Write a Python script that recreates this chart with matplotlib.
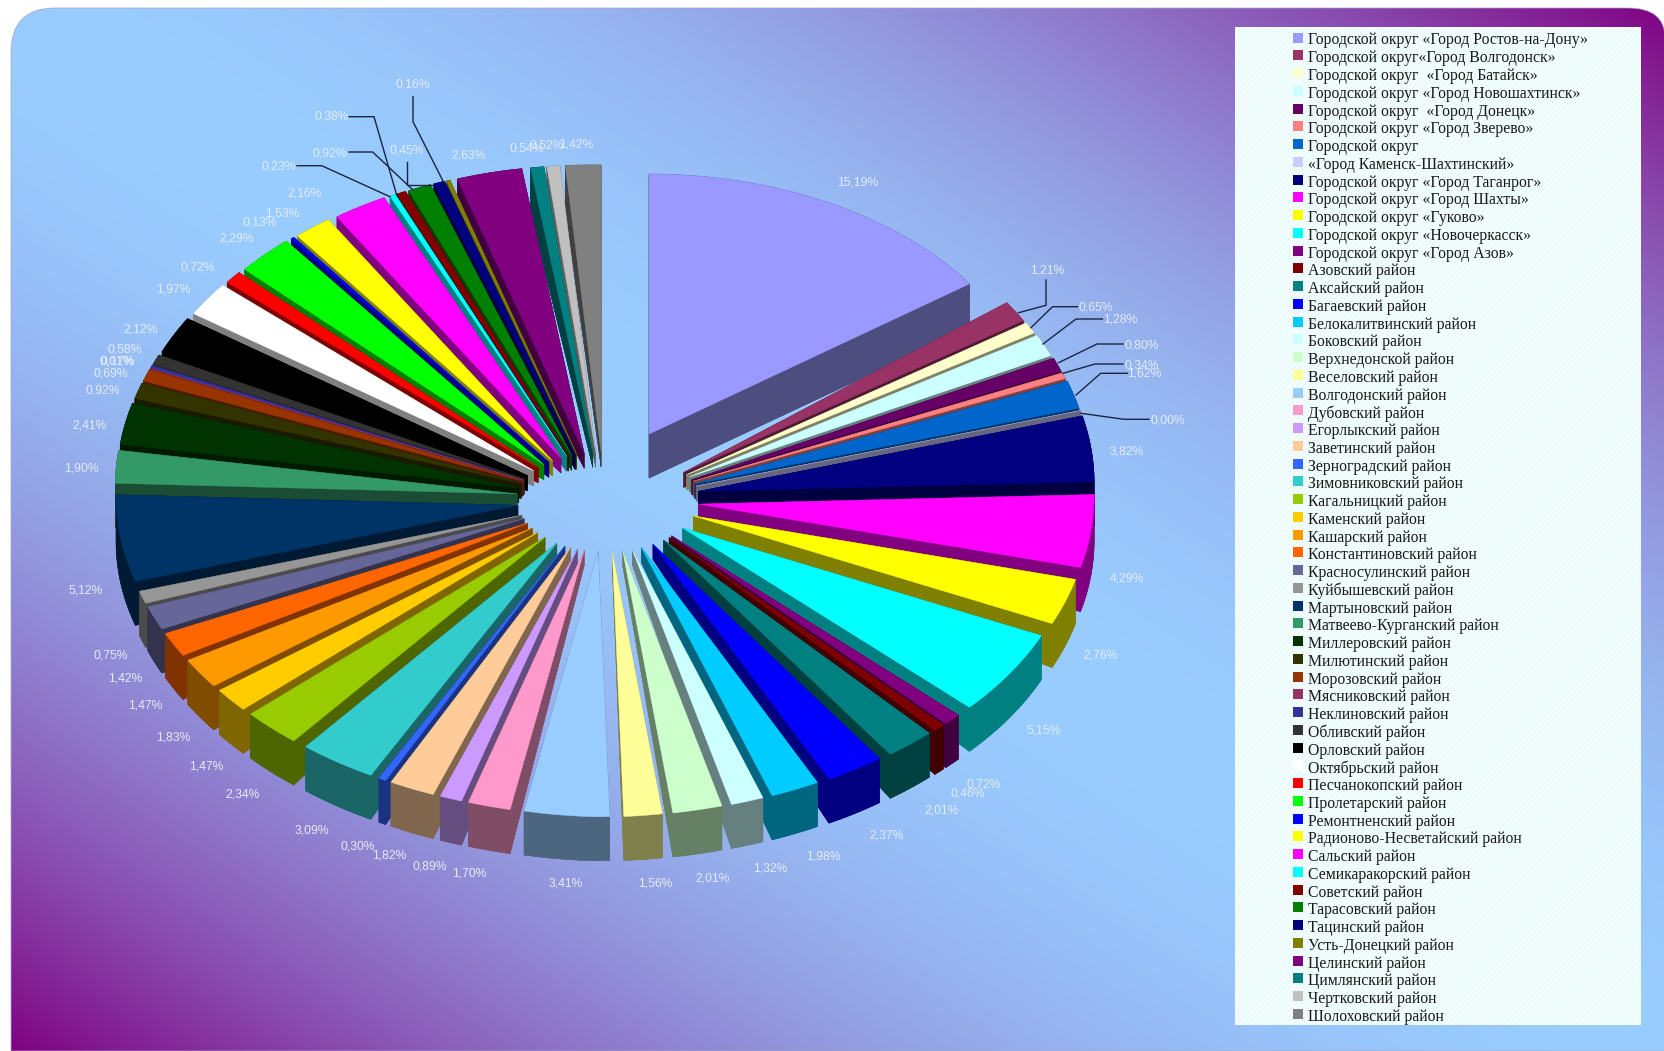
import numpy as np
import matplotlib
matplotlib.use("Agg")
import matplotlib.pyplot as plt
from matplotlib.patches import PathPatch, Polygon, Rectangle
from matplotlib.path import Path
from matplotlib.colors import to_rgb

names = ["Городской округ «Город Ростов-на-Дону»", "Городской округ«Город Волгодонск»", "Городской округ  «Город Батайск»",
 "Городской округ «Город Новошахтинск»", "Городской округ  «Город Донецк»", "Городской округ «Город Зверево»",
 "Городской округ", "«Город Каменск-Шахтинский»", "Городской округ «Город Таганрог»", "Городской округ «Город Шахты»",
 "Городской округ «Гуково»", "Городской округ «Новочеркасск»", "Городской округ «Город Азов»", "Азовский район",
 "Аксайский район", "Багаевский район", "Белокалитвинский район", "Боковский район", "Верхнедонской район",
 "Веселовский район", "Волгодонский район", "Дубовский район", "Егорлыкский район", "Заветинский район",
 "Зерноградский район", "Зимовниковский район", "Кагальницкий район", "Каменский район", "Кашарский район",
 "Константиновский район", "Красносулинский район", "Куйбышевский район", "Мартыновский район",
 "Матвеево-Курганский район", "Миллеровский район", "Милютинский район", "Морозовский район", "Мясниковский район",
 "Неклиновский район", "Обливский район", "Орловский район", "Октябрьский район", "Песчанокопский район",
 "Пролетарский район", "Ремонтненский район", "Радионово-Несветайский район", "Сальский район", "Семикаракорский район",
 "Советский район", "Тарасовский район", "Тацинский район", "Усть-Донецкий район", "Целинский район",
 "Цимлянский район", "Чертковский район", "Шолоховский район"]
values = [15.19, 1.21, 0.65, 1.28, 0.80, 0.34, 1.62, 0.00, 3.82, 4.29, 2.76, 5.15, 0.72, 0.46, 2.01, 2.37, 1.98, 1.32,
 2.01, 1.56, 3.41, 1.70, 0.89, 1.82, 0.30, 3.09, 2.34, 1.47, 1.83, 1.47, 1.42, 0.75, 5.12, 1.90, 2.41, 0.92, 0.69,
 0.01, 0.17, 0.58, 2.12, 1.97, 0.72, 2.29, 0.13, 1.53, 2.16, 0.23, 0.38, 0.92, 0.45, 0.16, 2.63, 0.54, 0.52, 1.42]
colors = ["#9999FF", "#993366", "#FFFFCC", "#CCFFFF", "#660066", "#FF8080", "#0066CC", "#CCCCFF", "#000080", "#FF00FF",
 "#FFFF00", "#00FFFF", "#800080", "#800000", "#008080", "#0000FF", "#00CCFF", "#CCFFFF", "#CCFFCC", "#FFFF99",
 "#99CCFF", "#FF99CC", "#CC99FF", "#FFCC99", "#3366FF", "#33CCCC", "#99CC00", "#FFCC00", "#FF9900", "#FF6600",
 "#666699", "#969696", "#003366", "#339966", "#003300", "#333300", "#993300", "#993366", "#333399", "#333333",
 "#000000", "#FFFFFF", "#FF0000", "#00FF00", "#0000FF", "#FFFF00", "#FF00FF", "#00FFFF", "#800000", "#008000",
 "#000080", "#808000", "#800080", "#008080", "#C0C0C0", "#808080"]
# label centres, read in 1568-wide coordinates
label_pos = [(808,172),(986,255),(1032,290),(1055,301),(1075,325),(1075,344),(1078,352),(1100,396),(1061,425),(1061,545),
 (1036,617),(983,688),(926,739),(911,747),(887,763),(835,787),(775,807),(725,818),(671,827),(617,832),(533,832),
 (442,823),(405,816),(367,806),(337,797),(294,782),(228,748),(194,722),(163,695),(137,664),(118,639),(104,617),
 (81,556),(77,441),(84,401),(97,368),(104,352),(110,340),(111,340),(117,329),(132,310),(163,273),(186,252),(223,225),
 (245,210),(266,201),(287,182),(262,157),(312,110),(311,145),(383,142),(389,80),(441,146),(496,140),(515,137),(543,136)]
leaders = [[(1018.6,312.7),(1046,305.3),(1046,280)], [(1031,327.7),(1052.5,306.7),(1077.5,306.7)],
 [(1043,344),(1076,319),(1102.5,319)], [(1058.6,362.7),(1097,344),(1123,344)], [(1063,373.3),(1095,364),(1123,364)],
 [(1076,395),(1100.7,373.3),(1127.5,373.3)], [(1081,413.3),(1124,419.3),(1149,419.3)],
 [(297,165.7),(321.7,165.7),(390,196.7)], [(349,152),(372.7,152),(413,190)], [(349,116.7),(374,116.7),(396.7,195)],
 [(406.7,161.7),(406.7,185),(431.7,185)], [(413,96.7),(413,121.7),(444,183)]]

W, H = 1665, 1051
plt.rcParams["hatch.linewidth"] = 0.5
fig = plt.figure(figsize=(W/100, H/100), dpi=100, facecolor="white")
ax = fig.add_axes([0, 0, 1, 1])
ax.set_xlim(0, W); ax.set_ylim(H, 0); ax.axis("off")

# background panel: diagonal gradient, rounded top corners
X, Y = np.meshgrid(np.linspace(0, 1, 400), np.linspace(0, 1, 300))
t = np.abs(X - Y)[..., None] ** 2.0
grad = (1 - t) * np.array(to_rgb("#99CCFF")) + t * np.array(to_rgb("#800080"))
verts = [(11, H), (11, 52), (11, 8), (55, 8), (1628, 8), (1665, 8), (1665, 38), (1665, H), (11, H)]
codes = [Path.MOVETO, Path.LINETO, Path.CURVE3, Path.CURVE3, Path.LINETO, Path.CURVE3, Path.CURVE3, Path.LINETO, Path.CLOSEPOLY]
panel = PathPatch(Path(verts, codes), facecolor="none", edgecolor="#a0a8c0", lw=0.5, zorder=1)
ax.add_patch(panel)
im = ax.imshow(grad, extent=(0, W, H, 0), aspect="auto", zorder=0, interpolation="bilinear")
im.set_clip_path(panel)
ax.set_xlim(0, W); ax.set_ylim(H, 0)

# exploded 3-D pie
vals = np.array(values)
edges = np.concatenate([[0], np.cumsum(vals)]) / vals.sum() * 2 * np.pi
CX = 605.0

def slice_geometry(i):
    a1, a2 = edges[i], edges[i + 1]
    am = (a1 + a2) / 2
    if i == 0:
        apex = (CX + 96 * np.sin(am), 490 - 63 * np.cos(am))
        rx, lfun, tilt = 393.0, (lambda a: 260.0), 0.0
        d0, d1 = 44.0, 44.0
    else:
        ex = 94 if np.sin(am) > 0 else 88
        rx = 396.0 if np.sin(am) > 0 else 402.0
        ey = 45 if np.cos(am) > 0 else 55
        apex = (CX + ex * np.sin(am), 497 - ey * np.cos(am))
        lfun, tilt = (lambda a: 276 + 11 * np.cos(a)), 8.0
        d0, d1 = 15.0, 44.0
    n = max(2, int(np.degrees(a2 - a1)) + 2)
    ang = np.linspace(a1, a2, n)
    arc = np.array([(apex[0] + rx * np.sin(a), apex[1] - lfun(a) * np.cos(a) - tilt * abs(np.sin(a))) for a in ang])
    return am, np.array(apex), arc, d0, d1

order = sorted(range(len(vals)), key=lambda i: -np.cos((edges[i] + edges[i + 1]) / 2))
for i in order:
    am, apex, arc, d0, d1 = slice_geometry(i)
    col = np.array(to_rgb(colors[i]))
    dark = col * 0.5
    down0 = apex + (0, d0)
    down = arc + (0, d1)
    polys = [np.vstack([apex, arc[0], down[0], down0]),
             np.vstack([apex, arc[-1], down[-1], down0]),
             np.vstack([arc, down[::-1]]),
             np.vstack([down0, down])]
    for p in polys:
        ax.add_patch(Polygon(p, closed=True, facecolor=dark, edgecolor=dark, lw=0.3, zorder=2))
    ax.add_patch(Polygon(np.vstack([apex, arc]), closed=True, facecolor=col, edgecolor=col, lw=0.3, zorder=2))

# leader lines and value labels
for pts in leaders:
    xs, ys = zip(*pts)
    ax.plot(xs, ys, color="#1c2440", lw=1.0, zorder=3, solid_joinstyle="miter")
sc = W / 1568
for v, (lx, ly) in zip(values, label_pos):
    ax.text(lx * sc, ly * sc, f"{v:.2f}%".replace(".", ","), color="#E4ECFA", fontsize=8.7,
            family="Liberation Sans", ha="center", va="center", zorder=4)

# legend box
ax.add_patch(Rectangle((1235, 27), 406, 998, facecolor="#F3FEFE", edgecolor="#E2F4F5", hatch="//////", lw=0, zorder=5))
row0, rowN = 40.5, 1017.0
step = (rowN - row0) / (len(names) - 1)
for k, (nm, c) in enumerate(zip(names, colors)):
    y = row0 + k * step
    ax.add_patch(Rectangle((1293, y - 8), 10, 10, facecolor=c, edgecolor="none", zorder=6))
    ax.text(1308, y, nm, color="#1a1a1a", fontsize=11.3, family="Liberation Serif", ha="left", va="center", zorder=6)

fig.savefig("out.png", dpi=100, facecolor="white")
